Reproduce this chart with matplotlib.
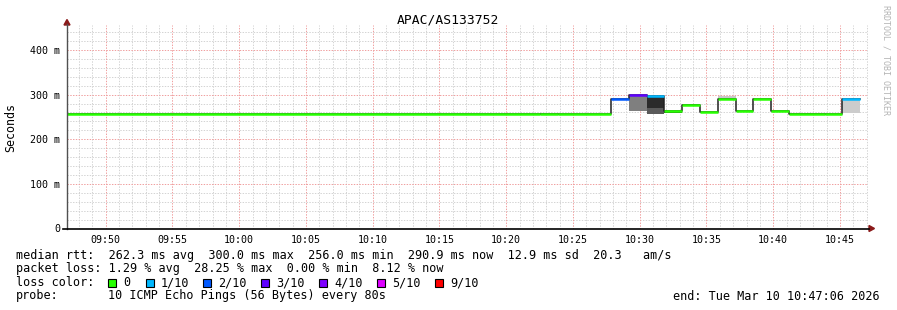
import matplotlib
matplotlib.use("Agg")
import matplotlib.pyplot as plt
from matplotlib.patches import Rectangle, Polygon
from matplotlib.lines import Line2D

# --- data ------------------------------------------------------------------
title = "APAC/AS133752"
t_start = "09:47:06"
t_end = "10:47:06"
sample_len = 80  # seconds per step

# median rtt steps (start time, ms, lost pings of 10)
step_time = ["09:47:06", "10:22:31", "10:23:51", "10:27:51", "10:29:11", "10:30:31",
             "10:31:51", "10:33:11", "10:34:31", "10:35:51", "10:37:11", "10:38:31",
             "10:39:51", "10:41:11", "10:43:51", "10:45:11"]
step_end = "10:46:31"
median_ms = [256.0, 257.5, 257.0, 290.5, 300.0, 297.7,
             264.0, 276.0, 260.6, 291.0, 264.0, 291.0,
             264.0, 257.0, 256.0, 290.9]
loss = [0, 0, 0, 2, 3, 1,
        0, 0, 0, 0, 0, 0,
        0, 0, 0, 1]

# smoke bands (one sample each)
smoke_time = ["09:47:51", "10:22:31", "10:29:11", "10:30:31", "10:30:31", "10:31:51",
              "10:33:11", "10:35:51", "10:41:11", "10:42:31", "10:45:11"]
smoke_lo = [256.0, 256.0, 264.0, 257.0, 269.0, 258.0, 274.5, 291.0, 255.0, 255.0, 258.0]
smoke_hi = [258.5, 259.5, 300.0, 269.0, 296.0, 264.0, 278.0, 298.0, 259.5, 259.5, 291.0]
smoke_shade = ["#c8c8c8", "#bbbbbb", "#7f7f7f", "#5a5a5a", "#2b2b2b", "#2b2b2b",
               "#aaaaaa", "#c8c8c8", "#aaaaaa", "#aaaaaa", "#cccccc"]

loss_labels = ["0", "1/10", "2/10", "3/10", "4/10", "5/10", "9/10"]
loss_colors = ["#26ff00", "#00b8ff", "#0059ff", "#5e00ff", "#7e00ff", "#dd00ff", "#ff0000"]
loss_to_color = {0: 0, 1: 1, 2: 2, 3: 3, 4: 4, 5: 5, 9: 6}

y_ticks = [0, 100, 200, 300, 400]
y_ticklabels = ["0", "100 m", "200 m", "300 m", "400 m"]
x_ticklabels = ["09:50", "09:55", "10:00", "10:05", "10:10", "10:15",
                "10:20", "10:25", "10:30", "10:35", "10:40", "10:45"]

legend_lines = [
    "median rtt:  262.3 ms avg  300.0 ms max  256.0 ms min  290.9 ms now  12.9 ms sd  20.3   am/s",
    "packet loss: 1.29 % avg  28.25 % max  0.00 % min  8.12 % now",
]
probe_text = "10 ICMP Echo Pings (56 Bytes) every 80s"
end_text = "end: Tue Mar 10 10:47:06 2026"


def mins(s):
    h, m, sec = (int(v) for v in s.split(":"))
    return h * 60 + m + sec / 60.0


W, H = 897, 310
fx = lambda px: px / W
fy = lambda py: 1 - py / H

mono = "DejaVu Sans Mono"
plt.rcParams["font.family"] = mono

fig = plt.figure(figsize=(W / 100, H / 100), dpi=100, facecolor="white")
ax = fig.add_axes([fx(67), fy(228.5), (868 - 67) / W, (228.5 - 25) / H])
ax.set_facecolor("white")

x0, x1 = mins(t_start), mins(t_end)
ax.set_xlim(x0, x1)
ax.set_ylim(0, 456)

# grid
dots = (0, (1.39, 1.39))
for m in range(int(x0) + 1, int(x1) + 1):
    major = m % 5 == 0
    ax.axvline(m, color="#f0a0a0" if major else "#d4d4d4", lw=0.72, ls=dots,
               zorder=1 if major else 0)
for v in range(20, 456, 20):
    major = v % 100 == 0
    ax.axhline(v, color="#f0a0a0" if major else "#d4d4d4", lw=0.72, ls=dots,
               zorder=1 if major else 0)

# smoke
dt = sample_len / 60.0
for t, lo, hi, c in zip(smoke_time, smoke_lo, smoke_hi, smoke_shade):
    s = mins(t)
    ax.fill_between([s, s + dt], lo, hi, color=c, lw=0, zorder=2)

# median: thin dark step line then loss coloured segments
starts = [mins(t) for t in step_time]
ends = starts[1:] + [mins(step_end)]
xs, ys = [], []
for s, e, v in zip(starts, ends, median_ms):
    xs += [s, e]
    ys += [v, v]
ax.plot(xs, ys, color="#202020", lw=1.1, zorder=3)
for s, e, v, l in zip(starts, ends, median_ms, loss):
    ax.plot([s, e], [v, v], color=loss_colors[loss_to_color[l]], lw=1.8,
            solid_capstyle="butt", zorder=4)

# ticks
ax.set_yticks(y_ticks)
ax.set_yticklabels(y_ticklabels)
ax.set_xticks([mins(t + ":00") for t in x_ticklabels])
ax.set_xticklabels(x_ticklabels)
ax.tick_params(axis="both", length=0, labelsize=7.2, colors="#000000")
ax.tick_params(axis="y", pad=5)
ax.tick_params(axis="x", pad=4.5)
for sp in ax.spines.values():
    sp.set_visible(False)

# axes lines and arrows
fig.add_artist(Line2D([fx(67), fx(67)], [fy(228.5), fy(24)], color="#505050", lw=1.0))
fig.add_artist(Line2D([fx(63), fx(869)], [fy(228.5), fy(228.5)], color="#000000", lw=1.2))
fig.add_artist(Polygon([(fx(64), fy(25)), (fx(70), fy(25)), (fx(67), fy(19.5))],
                       closed=True, color="#8b1a1a", transform=fig.transFigure))
fig.add_artist(Polygon([(fx(869), fy(225.5)), (fx(869), fy(231.5)), (fx(874.5), fy(228.5))],
                       closed=True, color="#8b1a1a", transform=fig.transFigure))

# texts
fig.text(fx(448), fy(20), title, ha="center", va="center", fontsize=9.4)
fig.text(fx(11), fy(127), "Seconds", ha="center", va="center", rotation=90, fontsize=8.4)
fig.text(fx(886), fy(5), "RRDTOOL / TOBI OETIKER", ha="center", va="top",
         rotation=270, fontsize=6.0, color="#b4b4b4")

fig.text(fx(16), fy(255), legend_lines[0], ha="left", va="center", fontsize=8.5)
fig.text(fx(16), fy(268.5), legend_lines[1], ha="left", va="center", fontsize=8.5)
fig.text(fx(16), fy(282.5), "loss color:", ha="left", va="center", fontsize=8.5)
box_x = [108, 146, 203, 261, 319, 377, 435]
for bx, lab, col in zip(box_x, loss_labels, loss_colors):
    fig.add_artist(Rectangle((fx(bx), fy(286.5)), 8 / W, 8 / H, transform=fig.transFigure,
                             facecolor=col, edgecolor="#000000", lw=0.8))
    fig.text(fx(bx + 15), fy(282.5), lab, ha="left", va="center", fontsize=8.5)
fig.text(fx(16), fy(296), "probe:", ha="left", va="center", fontsize=8.5)
fig.text(fx(108), fy(296), probe_text, ha="left", va="center", fontsize=8.5)
fig.text(fx(880), fy(296), end_text, ha="right", va="center", fontsize=8.5)

fig.savefig("out.png", dpi=100, facecolor="white")
